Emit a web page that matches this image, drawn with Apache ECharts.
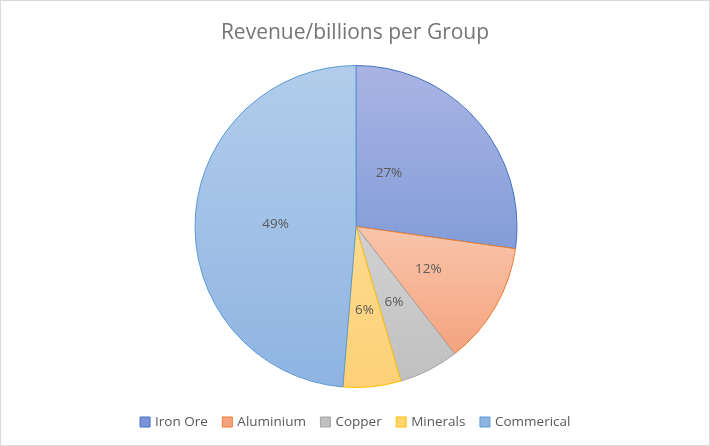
<!DOCTYPE html>
<html>
<head>
<meta charset="utf-8">
<script src="https://cdn.jsdelivr.net/npm/echarts@6/dist/echarts.min.js"></script>
<style>
html,body{margin:0;padding:0;background:#fff;}
#c{width:708px;height:444px;border:1px solid #d9d9d9;}
</style>
</head>
<body>
<div id="c"></div>
<script>
const titleText = 'Revenue/billions per Group';
const categories = ['Iron Ore', 'Aluminium', 'Copper', 'Minerals', 'Commerical'];
const values = [27.2, 12.3, 6.0, 5.8, 48.7];
const edgeColors = ['#4472C4', '#ED7D31', '#A5A5A5', '#FFC000', '#5B9BD5'];
const topColors = ['#aab4e4', '#f9c6ab', '#d2d2d2', '#fedb8e', '#b2cdeb'];
const bottomColors = ['#839dd8', '#f4a27f', '#c0c0c0', '#fdd078', '#8fb4e2'];
const legendColors = ['#7b93d6', '#f4a47f', '#bfbfbf', '#fed46e', '#8db5e2'];

const chart = echarts.init(document.getElementById('c'));
chart.setOption({
  backgroundColor: '#fff',
  animation: false,
  title: {
    text: titleText, left: 'center', top: 17,
    textStyle: {color: '#757575', fontSize: 21, fontWeight: 'normal', fontFamily: 'Open Sans'}
  },
  legend: {
    bottom: 11, left: 'center', icon: 'rect', itemWidth: 10, itemHeight: 10, itemGap: 14, itemStyle: {},
    textStyle: {color: '#595959', fontSize: 13.5, fontFamily: 'Open Sans'},
    data: categories.map((c, i) => ({name: c, itemStyle: {color: legendColors[i], borderColor: edgeColors[i], borderWidth: 1}}))
  },
  series: [{
    type: 'pie',
    center: [355, 225.5],
    radius: 161,
    startAngle: 90,
    clockwise: true,
    label: {
      position: 'inside', formatter: p => Math.round(p.percent) + '%',
      color: '#595959', fontSize: 13.5, fontFamily: 'Open Sans'
    },
    labelLayout: p => p.dataIndex === 0 ? {dx: -30, dy: 1} : (p.dataIndex === 4 ? {dx: 3, dy: 1} : {dy: 1}),
    labelLine: {show: false},
    emphasis: {disabled: true},
    data: categories.map((c, i) => ({
      name: c, value: values[i],
      itemStyle: {
        color: new echarts.graphic.LinearGradient(0, 0, 0, 1, [
          {offset: 0, color: topColors[i]}, {offset: 1, color: bottomColors[i]}
        ]),
        borderColor: edgeColors[i], borderWidth: 1
      }
    }))
  }]
});
</script>
</body>
</html>
